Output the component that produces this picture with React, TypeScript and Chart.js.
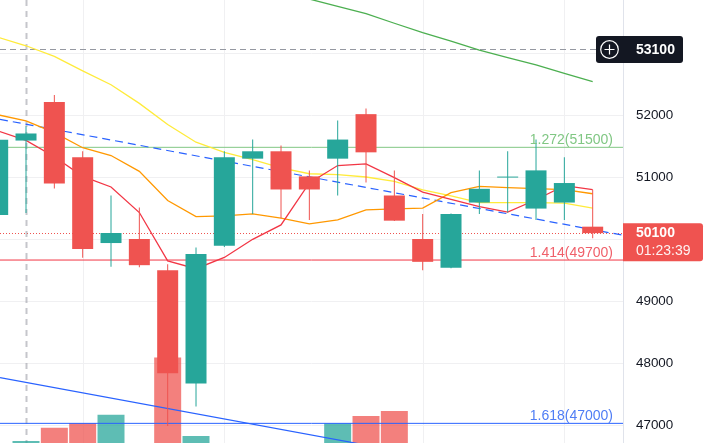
import React, { useEffect, useRef } from "react";
import { Chart, registerables } from "chart.js";

Chart.register(...registerables);

// ---------- data ----------
const candleIndex = [0, 1, 2, 3, 4, 5, 6, 7, 8, 9, 10, 11, 12, 13, 14, 15, 16, 17, 18, 19, 20, 21];
const opens = [50394, 51593, 52214, 51322, 49940, 50005, 49502, 47676, 49896, 51301, 51420, 51015, 51301, 52019, 50707, 50005, 49540, 50593, 50996, 50496, 50593, 50204];
const highs = [51720, 51825, 52327, 51420, 50707, 50512, 49600, 49870, 51420, 51609, 51512, 51112, 51917, 52112, 51112, 50410, 50415, 51112, 51420, 51609, 51322, 50799];
const lows = [50300, 50426, 50820, 49702, 49556, 49551, 46990, 47303, 49875, 50410, 50340, 50313, 50707, 50917, 50297, 49502, 49535, 50410, 50431, 50313, 50313, 50016];
const closes = [51605, 51707, 50901, 49843, 50102, 49583, 47838, 49762, 51322, 51420, 50804, 50804, 51609, 51403, 50301, 49637, 50410, 50815, 51012, 51112, 50908, 50100];
const volumes = [14, 20.45, 23.45, 24.5, 26.4, 17, 39.3, 21.6, 16, 12, 15, 11, 24.45, 26.1, 27.2, 18, 16, 9, 8, 13, 10, 4];

const maRed = [51749, 51596, 51331, 51016, 50844, 50432, 49653, 49526, 49708, 50000, 50232, 50909, 51190, 51218, 50995, 50763, 50646, 50529, 50438, 50638, 50865, 50800];
const maOrange = [52010, 51909, 51721, 51477, 51352, 51097, 50627, 50367, 50378, 50411, 50341, 50248, 50313, 50476, 50492, 50503, 50752, 50854, 50833, 50817, 50800, 50735];
const maYellow = [53260, 53122, 52950, 52716, 52493, 52193, 51852, 51566, 51404, 51285, 51151, 51058, 51042, 51005, 50934, 50799, 50702, 50593, 50593, 50593, 50583, 50502];
const maGreen = [null, null, null, null, null, null, null, null, null, null, 53992, 53875, 53758, 53639, 53485, 53334, 53195, 53053, 52932, 52812, 52677, 52545];

const trendDashed = [51935, 50066];
const trendSolid = [47768, 45919];

const fibRatios = ["1.272", "1.414", "1.618"];
const fibPrices = [51500, 49700, 47000];
const fibLevels = [51484, 49666, 47032];

const yTicks = [47000, 48000, 49000, 50000, 51000, 52000, 53000];
const hiddenTicks = [50000, 53000];
const xGridIdx = [3, 8, 15, 20];

const crossIndex = 1;
const crossPrice = 53065;
const crossLabel = "53100";
const lastPrice = 50100;
const lastLabel = "50100";
const countdown = "01:23:39";

// ---------- style ----------
const FONT = '"Liberation Sans", Arial, sans-serif';
const UP = "#26a69a";
const DOWN = "#ef5350";
const X_MIN = 0.082;
const X_MAX = 22.07;
const Y_MIN = 46715;
const Y_MAX = 53860;

function linePts(arr: (number | null)[]) {
  return arr
    .map((v, i) => (v == null ? null : { x: candleIndex[i], y: v }))
    .filter((p) => p !== null) as { x: number; y: number }[];
}

export default function App() {
  const ref = useRef<HTMLCanvasElement>(null);

  useEffect(() => {
    document.body.style.margin = "0";
    const canvas = ref.current!;
    const isUp = candleIndex.map((i) => closes[i] >= opens[i]);

    const overlay = {
      id: "overlay",
      beforeDatasetsDraw(chart: any) {
        const { ctx, chartArea: a, scales } = chart;
        const xs = scales.x;
        const ys = scales.y;
        ctx.save();
        // vertical grid
        ctx.strokeStyle = "#f0f0f2";
        ctx.lineWidth = 1;
        xGridIdx.forEach((i) => {
          const px = Math.round(xs.getPixelForValue(i)) + 0.5;
          ctx.beginPath();
          ctx.moveTo(px, a.top);
          ctx.lineTo(px, a.bottom);
          ctx.stroke();
        });
        // current price dotted line
        const py = Math.round(ys.getPixelForValue(lastPrice)) + 0.5;
        ctx.strokeStyle = DOWN;
        ctx.setLineDash([1, 2]);
        ctx.beginPath();
        ctx.moveTo(a.left, py);
        ctx.lineTo(a.right, py);
        ctx.stroke();
        // crosshair
        const cx = Math.round(xs.getPixelForValue(crossIndex)) + 0.5;
        ctx.strokeStyle = "rgba(149,152,161,0.55)";
        ctx.lineWidth = 2;
        ctx.setLineDash([6, 5]);
        ctx.beginPath();
        ctx.moveTo(cx, a.top);
        ctx.lineTo(cx, a.bottom);
        ctx.stroke();
        const cy = Math.round(ys.getPixelForValue(crossPrice)) + 0.5;
        ctx.strokeStyle = "#9598a1";
        ctx.lineWidth = 1;
        ctx.setLineDash([6, 4]);
        ctx.beginPath();
        ctx.moveTo(a.left, cy);
        ctx.lineTo(a.right, cy);
        ctx.stroke();
        ctx.restore();
      },
      afterDraw(chart: any) {
        const { ctx, chartArea: a, scales } = chart;
        const ys = scales.y;
        ctx.save();
        // fib labels
        const fibColors = ["#81c784", "#f0606a", "#4f7df5"];
        ctx.font = `14px ${FONT}`;
        ctx.textAlign = "right";
        ctx.textBaseline = "alphabetic";
        fibLevels.forEach((lv, k) => {
          const y = ys.getPixelForValue(lv);
          ctx.fillStyle = fibColors[k];
          ctx.fillText(`${fibRatios[k]}(${fibPrices[k]})`, a.right - 10, y - 3);
        });
        // crosshair price box
        const cy = Math.round(ys.getPixelForValue(crossPrice)) + 0.5;
        const bx = a.right - 27;
        const bw = 87;
        const bh = 27;
        ctx.fillStyle = "#131722";
        ctx.beginPath();
        ctx.roundRect(bx, cy - bh / 2, bw, bh, 3);
        ctx.fill();
        ctx.strokeStyle = "#ffffff";
        ctx.lineWidth = 1.2;
        const icx = bx + 13.5;
        ctx.beginPath();
        ctx.arc(icx, cy, 8.8, 0, Math.PI * 2);
        ctx.stroke();
        ctx.beginPath();
        ctx.moveTo(icx - 5, cy);
        ctx.lineTo(icx + 5, cy);
        ctx.moveTo(icx, cy - 5);
        ctx.lineTo(icx, cy + 5);
        ctx.stroke();
        ctx.fillStyle = "#ffffff";
        ctx.font = `bold 14px ${FONT}`;
        ctx.textAlign = "left";
        ctx.textBaseline = "middle";
        ctx.fillText(crossLabel, a.right + 13, cy + 1);
        // last price box
        const py = ys.getPixelForValue(lastPrice);
        const top = py - 10;
        ctx.fillStyle = DOWN;
        ctx.beginPath();
        ctx.roundRect(a.right, top, 80, 38, [0, 3, 3, 0]);
        ctx.fill();
        ctx.fillStyle = "#ffffff";
        ctx.font = `bold 14px ${FONT}`;
        ctx.fillText(lastLabel, a.right + 13, top + 10.5);
        ctx.fillStyle = "rgba(255,255,255,0.92)";
        ctx.font = `14px ${FONT}`;
        ctx.fillText(countdown, a.right + 13, top + 28);
        ctx.restore();
      },
    };

    const hLine = (v: number) => [
      { x: X_MIN, y: v },
      { x: X_MAX, y: v },
    ];

    const lineDs = (label: string, data: any[], color: string, order: number, extra: any = {}) => ({
      type: "line",
      label,
      data,
      borderColor: color,
      borderWidth: 1.3,
      pointRadius: 0,
      tension: 0,
      fill: false,
      clip: 0,
      yAxisID: "y",
      order,
      ...extra,
    });

    const chart = new Chart(canvas, {
      type: "bar",
      data: {
        datasets: [
          {
            type: "bar",
            label: "bodies",
            data: candleIndex.map((i) => ({ x: i, y: [opens[i], closes[i]] })),
            backgroundColor: isUp.map((u) => (u ? UP : DOWN)),
            barThickness: 21,
            grouped: false,
            borderWidth: 0,
            inflateAmount: 0,
            clip: 0,
            yAxisID: "y",
            order: 1,
          },
          {
            type: "bar",
            label: "wicks",
            data: candleIndex.map((i) => ({ x: i, y: [lows[i], highs[i]] })),
            backgroundColor: isUp.map((u) => (u ? UP : DOWN)),
            barThickness: 1,
            grouped: false,
            borderWidth: 0,
            inflateAmount: 0,
            clip: 0,
            yAxisID: "y",
            order: 2,
          },
          lineDs("MA red", linePts(maRed), "#f23645", 3),
          lineDs("MA orange", linePts(maOrange), "#ff9800", 4),
          lineDs("MA yellow", linePts(maYellow), "#ffeb3b", 5),
          lineDs("MA green", linePts(maGreen), "#4caf50", 6),
          lineDs("trend dashed", [
            { x: X_MIN, y: trendDashed[0] },
            { x: X_MAX, y: trendDashed[1] },
          ], "#2962ff", 7, { borderDash: [8, 5], borderWidth: 1.2 }),
          lineDs("trend solid", [
            { x: X_MIN, y: trendSolid[0] },
            { x: X_MAX, y: trendSolid[1] },
          ], "#2962ff", 8, { borderWidth: 1.2 }),
          lineDs("fib 1", hLine(fibLevels[0]), "#81c784", 9, { borderWidth: 1 }),
          lineDs("fib 2", hLine(fibLevels[1]), "#f23645", 10, { borderWidth: 1 }),
          lineDs("fib 3", hLine(fibLevels[2]), "#2962ff", 11, { borderWidth: 1 }),
          {
            type: "bar",
            label: "volume",
            data: candleIndex.map((i) => ({ x: i, y: volumes[i] })),
            backgroundColor: isUp.map((u) => (u ? "rgba(38,166,154,0.74)" : "rgba(239,83,80,0.74)")),
            barThickness: 27,
            grouped: false,
            borderWidth: 0,
            inflateAmount: 0,
            clip: 0,
            yAxisID: "vol",
            order: 20,
          },
        ] as any,
      },
      options: {
        responsive: false,
        maintainAspectRatio: false,
        devicePixelRatio: 1,
        animation: false,
        events: [],
        layout: { padding: 0 },
        plugins: {
          legend: { display: false },
          tooltip: { enabled: false },
          title: { display: false },
        },
        scales: {
          x: {
            type: "linear",
            display: false,
            offset: false,
            min: X_MIN,
            max: X_MAX,
            grid: { offset: false },
          },
          y: {
            type: "linear",
            position: "right",
            min: Y_MIN,
            max: Y_MAX,
            afterBuildTicks: (s: any) => {
              s.ticks = yTicks.map((v) => ({ value: v }));
            },
            afterFit: (s: any) => {
              s.width = 85;
              s.paddingTop = 0;
              s.paddingBottom = 0;
            },
            ticks: {
              color: "#131722",
              font: { family: FONT, size: 13.4 },
              padding: 13,
              callback: (v: any) => (hiddenTicks.includes(Number(v)) ? "" : String(v)),
            },
            grid: { color: "#f0f0f2", drawTicks: false, lineWidth: 1 },
            border: { color: "#e0e3eb" },
          },
          vol: {
            type: "linear",
            display: false,
            min: 20,
            max: 120,
          },
        },
      } as any,
      plugins: [overlay],
    });

    return () => chart.destroy();
  }, []);

  return (
    <div style={{ width: 708, height: 443, background: "#ffffff" }}>
      <canvas ref={ref} width={708} height={443} style={{ display: "block", width: 708, height: 443 }} />
    </div>
  );
}
